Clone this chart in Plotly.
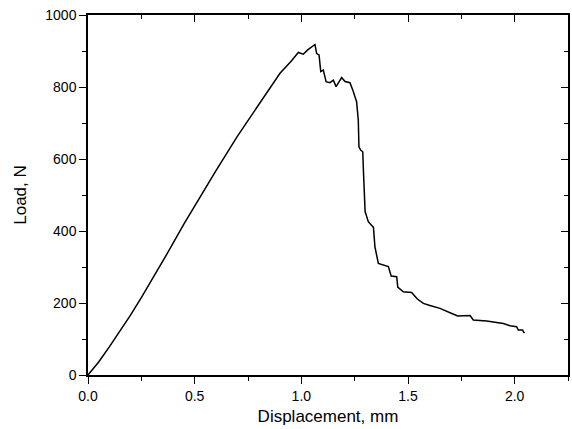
import plotly.graph_objects as go

displacement = [0.0, 0.05, 0.1, 0.15, 0.2, 0.25, 0.3, 0.369, 0.45, 0.5, 0.6, 0.7, 0.8, 0.85, 0.9, 0.95,
                0.986, 1.009, 1.03, 1.064, 1.072, 1.083, 1.091, 1.103, 1.116, 1.134, 1.15, 1.163,
                1.189, 1.205, 1.228, 1.241, 1.259, 1.267, 1.270, 1.278, 1.288, 1.291, 1.299, 1.314,
                1.338, 1.345, 1.361, 1.408, 1.421, 1.447, 1.452, 1.478, 1.517, 1.544, 1.572, 1.603,
                1.650, 1.697, 1.733, 1.791, 1.806, 1.869, 1.916, 1.947, 1.978, 2.009, 2.017, 2.037,
                2.044, 2.045]
load = [0, 36, 78, 122, 167, 215, 264, 335, 420, 470, 568, 663, 752, 797, 838, 870,
        896, 891, 903, 918, 893, 889, 843, 847, 815, 812, 819, 801,
        826, 815, 812, 792, 759, 708, 634, 625, 620, 569, 454, 426,
        410, 356, 310, 301, 275, 273, 244, 231, 229, 211, 199, 193,
        185, 173, 164, 165, 153, 150, 146, 143, 137, 134, 125, 125,
        117, 120]

x_range = [0, 2.25]
y_range = [0, 1000]

fig = go.Figure()
fig.add_trace(go.Scatter(x=displacement, y=load, mode="lines",
                         line=dict(color="black", width=1.5), showlegend=False))
fig.add_trace(go.Scatter(x=[0], y=[0], xaxis="x2", yaxis="y2", mode="markers",
                         marker=dict(size=0.1, opacity=0), showlegend=False, hoverinfo="skip"))

fam = "Liberation Sans, Arial"
tickfont = dict(family=fam, size=14, color="black")
titlefont = dict(family=fam, size=17, color="black")
common = dict(showgrid=False, zeroline=False, showline=True, linecolor="black", linewidth=1.5,
              tickcolor="black", tickwidth=1.2, tickfont=tickfont, automargin=False)

fig.update_layout(
    width=572, height=429,
    margin=dict(l=88, r=4, t=15, b=54),
    paper_bgcolor="white", plot_bgcolor="white",
    font=tickfont,
    xaxis=dict(range=x_range, dtick=0.5, tickformat=".1f", ticks="outside", ticklen=7,
               minor=dict(dtick=0.25, ticks="outside", ticklen=4, tickcolor="black", tickwidth=1.2),
               title=dict(text="Displacement, mm", font=titlefont, standoff=8),
               **common),
    yaxis=dict(range=y_range, dtick=200, ticks="outside", ticklen=7,
               minor=dict(dtick=100, ticks="outside", ticklen=4, tickcolor="black", tickwidth=1.2),
               title=dict(text="Load, N", font=titlefont, standoff=14),
               **common),
    xaxis2=dict(range=x_range, overlaying="x", side="top", dtick=0.5, ticks="inside", ticklen=7,
                showticklabels=False,
                minor=dict(dtick=0.25, ticks="inside", ticklen=4, tickcolor="black", tickwidth=1.2),
                **common),
    yaxis2=dict(range=y_range, overlaying="y", side="right", dtick=200, ticks="inside", ticklen=7,
                showticklabels=False,
                minor=dict(dtick=100, ticks="inside", ticklen=4, tickcolor="black", tickwidth=1.2),
                **common),
)

fig.write_html("out.html")
